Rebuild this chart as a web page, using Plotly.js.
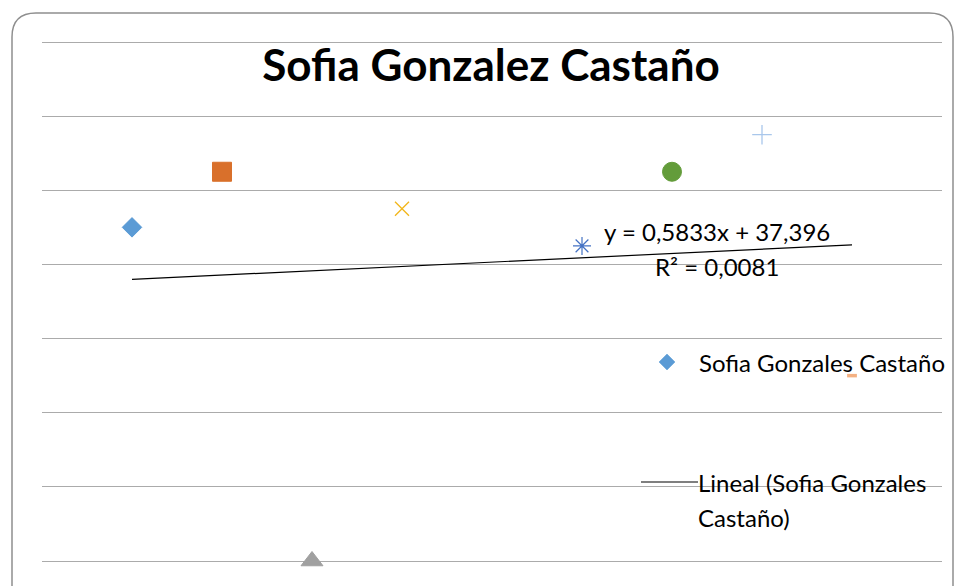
<!DOCTYPE html>
<html>
<head>
<meta charset="utf-8">
<script src="https://cdn.plot.ly/plotly-3.0.1.min.js"></script>
<style>
  html, body { margin: 0; padding: 0; background: #ffffff; }
  #chart { width: 956px; height: 586px; }
</style>
</head>
<body>
<div id="chart"></div>
<script>
// ---- data ----
var chartTitle = 'Sofia Gonzalez Castaño';
var seriesName = 'Sofia Gonzales Castaño';
var trendName = 'Lineal (Sofia Gonzales';
var trendName2 = 'Castaño)';
var xValues = [1, 2, 3, 4, 6, 7, 8, 9];
var yValues = [45, 52.5, 0, 47.5, 42.5, 52.5, 57.5, 25];

// ---- styles ----
var pointColors = ['#5B9BD5', '#D9702B', '#A0A0A0', '#F2B619', '#4472C4', '#639C3A', '#A9C7EB', '#F4B183'];
var pointSymbols = ['diamond', 'square', 'triangle-up', 'x-thin-open', 'asterisk-open', 'circle', 'cross-thin-open', 'line-ew-open'];
var pointSizes = [15, 19, 19, 14, 15, 19, 14, 7];
var pointLineWidths = [1, 1, 1, 1.3, 1.2, 1, 1.3, 3.5];

// ---- linear regression (Excel trendline) ----
var n = xValues.length;
var mx = xValues.reduce(function(a, b) { return a + b; }, 0) / n;
var my = yValues.reduce(function(a, b) { return a + b; }, 0) / n;
var sxy = 0, sxx = 0, syy = 0;
for (var i = 0; i < n; i++) {
  sxy += (xValues[i] - mx) * (yValues[i] - my);
  sxx += (xValues[i] - mx) * (xValues[i] - mx);
  syy += (yValues[i] - my) * (yValues[i] - my);
}
var slope = sxy / sxx;
var intercept = my - slope * mx;
var r2 = (sxy * sxy) / (sxx * syy);
var xMin = Math.min.apply(null, xValues), xMax = Math.max.apply(null, xValues);
var trendX = [xMin, xMax];
var trendY = trendX.map(function(x) { return slope * x + intercept; });
function fmt(v, d) { return v.toFixed(d).replace('.', ','); }
var eqText = 'y = ' + fmt(slope, 4) + 'x + ' + fmt(intercept, 3);
var r2Text = 'R² = ' + fmt(r2, 4);

// ---- pixel helpers for decorations ----
// value area: y=70 at 42px, y=0 at 561px; plot area padded by 2px so edge gridlines draw
var L = 42, R = 942, T = 40, B = 563;
var VT = 42, VB = 561;
var pad = 2 * 70 / (VB - VT);
function px(p) { return (p - L) / (R - L); }
function py(p) { return (B - p) / (B - T); }

var FONT = 'Lato, "Open Sans", sans-serif';
var TXT = 24;

var traces = [
  {
    x: xValues, y: yValues, type: 'scatter', mode: 'markers', name: seriesName,
    showlegend: false, cliponaxis: false,
    marker: {
      color: pointColors, symbol: pointSymbols, size: pointSizes, opacity: 1,
      line: { color: pointColors, width: pointLineWidths }
    }
  },
  {
    x: trendX, y: trendY, type: 'scatter', mode: 'lines', name: trendName + ' ' + trendName2,
    showlegend: false, line: { color: '#000000', width: 1.2 }
  }
];

// border (rounded rectangle)
function borderPath() {
  var x0 = 12, y0 = 13, x1 = 953, y1 = 620, r = 24;
  var pts = [
    ['M', x0, y0 + r],
    ['Q', x0, y0, x0 + r, y0],
    ['L', x1 - r, y0],
    ['Q', x1, y0, x1, y0 + r],
    ['L', x1, y1 - r],
    ['Q', x1, y1, x1 - r, y1],
    ['L', x0 + r, y1],
    ['Q', x0, y1, x0, y1 - r],
    ['Z']
  ];
  return pts.map(function(s) {
    var out = s[0];
    for (var k = 1; k < s.length; k += 2) {
      out += (k > 1 ? ' ' : '') + px(s[k]) + ',' + py(s[k + 1]);
    }
    return out;
  }).join(' ');
}
function diamondPath(cx, cy, h) {
  return 'M' + px(cx - h) + ',' + py(cy) + ' L' + px(cx) + ',' + py(cy - h) +
         ' L' + px(cx + h) + ',' + py(cy) + ' L' + px(cx) + ',' + py(cy + h) + ' Z';
}

var layout = {
  width: 956, height: 586,
  margin: { l: L, r: 956 - R, t: T, b: 586 - B, pad: 0 },
  paper_bgcolor: '#ffffff', plot_bgcolor: 'rgba(0,0,0,0)',
  showlegend: false,
  title: {
    text: chartTitle,
    font: { family: FONT, size: 44, color: '#000000', weight: 700 },
    x: 491 / 956, xanchor: 'center', xref: 'container',
    y: 1 - 66 / 586, yanchor: 'middle', yref: 'container'
  },
  xaxis: {
    range: [0, 10], showgrid: false, zeroline: false, showline: false,
    showticklabels: false, ticks: ''
  },
  yaxis: {
    range: [0 - pad, 70 + pad], dtick: 10, tick0: 0, showgrid: true, gridcolor: '#ABABAB', gridwidth: 1,
    zeroline: false, showline: false, showticklabels: false, ticks: ''
  },
  shapes: [
    { type: 'path', xref: 'paper', yref: 'paper', path: borderPath(), line: { color: '#8E8E8E', width: 1.5 }, fillcolor: 'rgba(0,0,0,0)', layer: 'above' },
    { type: 'path', xref: 'paper', yref: 'paper', path: diamondPath(667, 362, 8), line: { color: '#5B9BD5', width: 0.5 }, fillcolor: '#5B9BD5' },
    { type: 'line', xref: 'paper', yref: 'paper', x0: px(641), x1: px(698), y0: py(482), y1: py(482), line: { color: '#000000', width: 1.2 } }
  ],
  annotations: [
    { text: eqText, xref: 'paper', yref: 'paper', x: px(717), y: py(231), xanchor: 'center', yanchor: 'middle', showarrow: false, font: { family: FONT, size: TXT, color: '#000' } },
    { text: r2Text, xref: 'paper', yref: 'paper', x: px(717), y: py(266), xanchor: 'center', yanchor: 'middle', showarrow: false, font: { family: FONT, size: TXT, color: '#000' } },
    { text: seriesName, xref: 'paper', yref: 'paper', x: px(697), y: py(362), xanchor: 'left', yanchor: 'middle', showarrow: false, font: { family: FONT, size: TXT, color: '#000' } },
    { text: trendName, xref: 'paper', yref: 'paper', x: px(696), y: py(482), xanchor: 'left', yanchor: 'middle', showarrow: false, font: { family: FONT, size: TXT, color: '#000' } },
    { text: trendName2, xref: 'paper', yref: 'paper', x: px(696), y: py(517), xanchor: 'left', yanchor: 'middle', showarrow: false, font: { family: FONT, size: TXT, color: '#000' } }
  ]
};

Plotly.newPlot('chart', traces, layout, { displayModeBar: false, staticPlot: true });
</script>
</body>
</html>
